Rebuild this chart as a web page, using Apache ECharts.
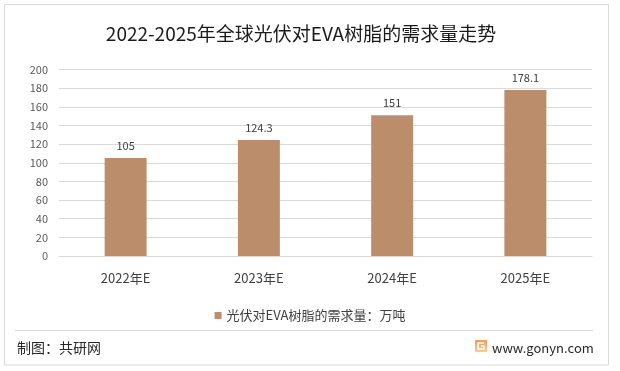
<!DOCTYPE html>
<html>
<head>
<meta charset="utf-8">
<script src="https://cdn.jsdelivr.net/npm/echarts@6/dist/echarts.min.js"></script>
<style>
html,body{margin:0;padding:0;background:#fff;}
#chart{width:620px;height:371px;}
</style>
</head>
<body>
<div id="chart"></div>
<script>
const titleText = '2022-2025年全球光伏对EVA树脂的需求量走势';
const categories = ['2022年E', '2023年E', '2024年E', '2025年E'];
const seriesName = '光伏对EVA树脂的需求量：万吨';
const values = [105, 124.3, 151, 178.1];
const yMin = 0, yMax = 200, yStep = 20;
const sourceText = '制图：共研网';
const siteText = 'www.gonyn.com';

const FONT = '"Noto Sans CJK SC", "Noto Sans", sans-serif';
const chart = echarts.init(document.getElementById('chart'), null, {renderer: 'canvas'});
chart.setOption({
  backgroundColor: '#ffffff',
  animation: false,
  textStyle: {fontFamily: FONT},
  grid: {left: 59, right: 28, top: 69.5, bottom: 115, containLabel: false},
  legend: {
    data: [seriesName],
    left: 'center',
    top: 304,
    icon: 'rect',
    itemWidth: 7,
    itemHeight: 7,
    itemGap: 5,
    textStyle: {fontSize: 13, color: '#404040', fontFamily: FONT}
  },
  xAxis: {
    type: 'category',
    data: categories,
    axisLine: {show: true, lineStyle: {color: '#D9D9D9', width: 1}},
    axisTick: {show: false},
    axisLabel: {fontSize: 13, color: '#404040', margin: 16, fontFamily: FONT}
  },
  yAxis: {
    type: 'value',
    min: yMin,
    max: yMax,
    interval: yStep,
    axisLine: {show: false},
    axisTick: {show: false},
    splitLine: {lineStyle: {color: '#D9D9D9', width: 1}},
    axisLabel: {fontSize: 11, color: '#595959', margin: 11, fontFamily: FONT}
  },
  series: [{
    name: seriesName,
    type: 'bar',
    data: values,
    barWidth: '31.5%',
    itemStyle: {color: '#BB8D6B'},
    label: {
      show: true,
      position: 'top',
      distance: 7,
      fontSize: 11,
      color: '#404040',
      fontFamily: FONT
    }
  }],
  graphic: [
    {type: 'rect', silent: true, z: -1,
     shape: {x: 4.5, y: 4.5, width: 604, height: 360.5},
     style: {fill: 'none', stroke: '#D9D9D9', lineWidth: 1}},
    {type: 'text', x: 301, y: 34,
     style: {text: titleText, fontSize: 19, fill: '#1a1a1a', fontFamily: FONT, fontWeight: 'normal',
             textAlign: 'center', textVerticalAlign: 'middle'}},
    {type: 'line', shape: {x1: 15, y1: 330.5, x2: 593, y2: 330.5},
     style: {stroke: '#D9D9D9', lineWidth: 1}},
    {type: 'text', x: 17, y: 348,
     style: {text: sourceText, fontSize: 14, fill: '#262626', fontFamily: FONT,
             textAlign: 'left', textVerticalAlign: 'middle'}},
    {type: 'rect', shape: {x: 475, y: 340, width: 12, height: 12, r: 1},
     style: {fill: new echarts.graphic.LinearGradient(0, 0, 0, 1, [
       {offset: 0, color: '#F39A55'}, {offset: 1, color: '#F9C98A'}])}},
    {type: 'polyline', shape: {points: [[484, 343], [478, 343], [478, 349], [484, 349], [484, 346], [481, 346]]},
     style: {stroke: '#ffffff', lineWidth: 1.6, fill: 'none'}},
    {type: 'text', x: 492, y: 348,
     style: {text: siteText, fontSize: 13, fill: '#262626', fontFamily: FONT,
             textAlign: 'left', textVerticalAlign: 'middle'}}
  ]
});
</script>
</body>
</html>
